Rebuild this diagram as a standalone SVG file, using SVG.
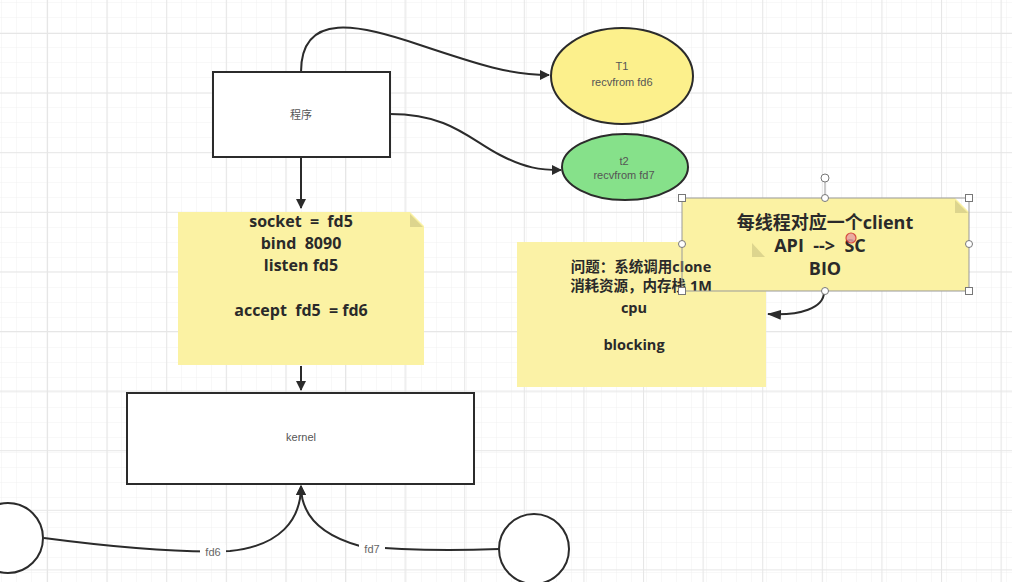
<svg xmlns="http://www.w3.org/2000/svg" width="1012" height="582" viewBox="0 0 1012 582">
<defs>
<pattern id="minor" x="2" y="3" width="15" height="15" patternUnits="userSpaceOnUse">
<path d="M15 0V15M0 15H15" fill="none" stroke="#f1f1f1" stroke-width="1"/>
</pattern>
<pattern id="major" x="47" y="33" width="59.6" height="59.6" patternUnits="userSpaceOnUse">
<path d="M0.5 0V59.6M0 0.5H59.6" fill="none" stroke="#e6e6e6" stroke-width="1.2"/>
</pattern>
<marker id="arr" viewBox="0 0 10 10" refX="9" refY="5" markerWidth="10" markerHeight="10" markerUnits="userSpaceOnUse" orient="auto">
<path d="M0 0L10 5L0 10Z" fill="#2b2b2b"/>
</marker>
<marker id="arrL" viewBox="0 0 14 10" refX="13" refY="5" markerWidth="14" markerHeight="10" markerUnits="userSpaceOnUse" orient="auto">
<path d="M0 0L14 5L0 10Z" fill="#2b2b2b"/>
</marker>
</defs>
<style>
.box{fill:#fff;stroke:#2b2b2b;stroke-width:2}
.note{fill:#fbf2a3}
.fold{fill:#ddd58e}
.ln{fill:none;stroke:#2b2b2b;stroke-width:2}
.t{font-family:"Liberation Sans","Noto Sans CJK SC",sans-serif;font-size:11px;fill:#555;text-anchor:middle}
.b{font-family:"Open Sans","Noto Sans CJK SC",sans-serif;font-weight:bold;fill:#2a2a2a;text-anchor:middle}
.h{fill:#fff;stroke:#777;stroke-width:1}
.lbl{font-family:"Liberation Sans",sans-serif;font-size:11px;fill:#666;text-anchor:middle}
</style>
<rect width="1012" height="582" fill="#fff"/>
<rect width="1012" height="582" fill="url(#minor)"/>
<rect width="1012" height="582" fill="url(#major)"/>

<g id="connectors">
<path class="ln" d="M301 157V208" marker-end="url(#arr)"/>
<path class="ln" d="M301 72C301 10 360 25 420 45C480 65 510 75 549 75" marker-end="url(#arr)"/>
<path class="ln" d="M390 114C450 114 470 140 500 155C525 168 540 170 561 170" marker-end="url(#arr)"/>
<path class="ln" d="M301 366V390" marker-end="url(#arr)"/>
<path class="ln" d="M44 538C120 548 180 553 230 551C280 546 301 520 301 486" marker-end="url(#arr)"/>
<path class="ln" d="M499 549C440 551 400 550 360 546C320 535 301 515 301 486" marker-end="url(#arr)"/>
<path class="ln" d="M824 292C824 308 800 316 768 314" marker-end="url(#arrL)"/>
<rect x="200" y="545" width="26" height="13" fill="#fff"/>
<text class="lbl" x="213" y="556">fd6</text>
<rect x="359" y="542" width="26" height="13" fill="#fff"/>
<text class="lbl" x="372" y="553">fd7</text>
</g>

<g id="prog">
<rect class="box" x="213" y="72" width="177" height="85"/>
<text class="t" x="301" y="119">程序</text>
</g>

<g id="t1">
<ellipse cx="622" cy="76" rx="71" ry="48" fill="#fcf08c" stroke="#2b2b2b" stroke-width="2"/>
<text class="t" x="622" y="70">T1</text>
<text class="t" x="622" y="86">recvfrom fd6</text>
</g>

<g id="t2">
<ellipse cx="625" cy="167" rx="63" ry="33" fill="#86e18a" stroke="#2b2b2b" stroke-width="2"/>
<text class="t" x="624" y="165">t2</text>
<text class="t" x="624" y="179">recvfrom fd7</text>
</g>

<g id="note1">
<path class="note" d="M178 212H410L424 226V365H178Z"/>
<path class="fold" d="M410 214L423 227H410Z"/>
<g class="b" font-size="16">
<text xml:space="preserve" x="301" y="227">socket  =  fd5</text>
<text xml:space="preserve" x="301" y="249">bind  8090</text>
<text x="301" y="271">listen fd5</text>
<text xml:space="preserve" x="301" y="316">accept  fd5  = fd6</text>
</g>
</g>

<g id="kernel">
<rect class="box" x="127" y="393" width="347" height="91"/>
<text class="t" x="301" y="441">kernel</text>
</g>

<g id="c1">
<circle cx="8" cy="538" r="35" class="box"/>
</g>
<g id="c2">
<circle cx="534" cy="549" r="35" class="box"/>
</g>

<g id="note3">
<path class="note" d="M682 198H955L969 212V291H682Z"/>
<path class="fold" d="M955 200L968 213H955Z"/>
<g class="b" font-size="18">
<text x="825" y="229">每线程对应一个client</text>
<text xml:space="preserve" x="820" y="252">API  --&gt;  SC</text>
<text x="825" y="275">BIO</text>
</g>
<circle cx="851" cy="238" r="5" fill="#e8a0a0" stroke="#d03030" stroke-width="1.2" opacity="0.85"/>
</g>

<g id="note2">
<path class="note" d="M517 242H752L766 256V387H517Z" opacity="0.97"/>
<path class="fold" d="M752 243L765 257H752Z"/>
<g class="b" font-size="14.5">
<text x="641" y="272">问题：系统调用clone</text>
<text x="641" y="291">消耗资源，内存栈 1M</text>
<text x="634" y="313">cpu</text>
<text x="634" y="350">blocking</text>
</g>
</g>

<g id="selection">
<rect x="682" y="198" width="287" height="93" fill="none" stroke="#999" stroke-width="1"/>
<line x1="825" y1="182" x2="825" y2="198" stroke="#999" stroke-width="1"/>
<circle class="h" cx="825" cy="178" r="4"/>
<rect class="h" x="678.5" y="194.5" width="7" height="7"/>
<rect class="h" x="965.5" y="194.5" width="7" height="7"/>
<rect class="h" x="678.5" y="287.5" width="7" height="7"/>
<rect class="h" x="965.5" y="287.5" width="7" height="7"/>
<circle class="h" cx="825" cy="198" r="3.5"/>
<circle class="h" cx="825" cy="291" r="3.5"/>
<circle class="h" cx="682" cy="244" r="3.5"/>
<circle class="h" cx="969" cy="244" r="3.5"/>
</g>
</svg>
